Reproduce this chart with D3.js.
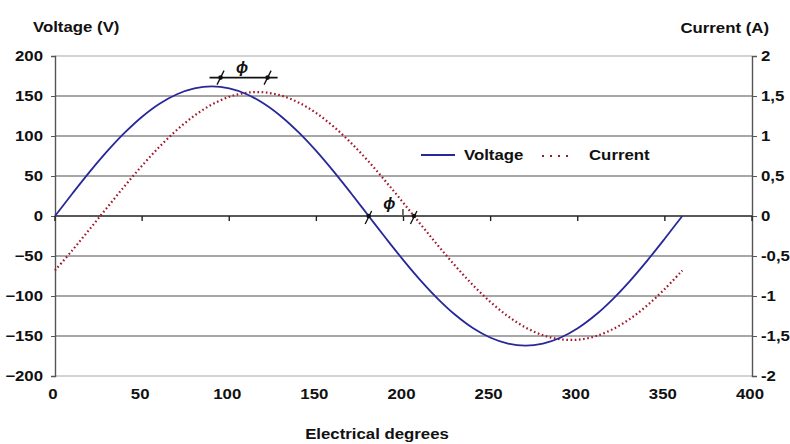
<!DOCTYPE html>
<html>
<head>
<meta charset="utf-8">
<script src="https://cdn.jsdelivr.net/npm/d3@7"></script>
<style>
  html, body { margin: 0; padding: 0; background: #fff; }
  svg { display: block; }
  text { font-family: "Liberation Sans", Arial, sans-serif; font-weight: bold; fill: #111; }
</style>
</head>
<body>
<svg id="chart" width="790" height="444"></svg>
<script>
// ---- data ----
const degrees = [0,10,20,30,40,50,60,70,80,90,100,110,120,130,140,150,160,170,180,
  190,200,210,220,230,240,250,260,270,280,290,300,310,320,330,340,350,360];
const voltage = [0,28.1,55.4,81,104.1,124.1,140.3,152.2,159.5,162,159.5,152.2,140.3,124.1,104.1,81,55.4,28.1,0,
  -28.1,-55.4,-81,-104.1,-124.1,-140.3,-152.2,-159.5,-162,-159.5,-152.2,-140.3,-124.1,-104.1,-81,-55.4,-28.1,0];
const current = [-0.68,-0.427,-0.162,0.108,0.375,0.63,0.867,1.077,1.254,1.393,1.49,1.541,1.546,1.504,1.416,1.285,1.115,0.911,0.68,
  0.427,0.162,-0.108,-0.375,-0.63,-0.867,-1.077,-1.254,-1.393,-1.49,-1.541,-1.546,-1.504,-1.416,-1.285,-1.115,-0.911,-0.68];
const xTicks = [0,50,100,150,200,250,300,350,400];
const vTicks = [-200,-150,-100,-50,0,50,100,150,200];
const iTicks = [-2,-1.5,-1,-0.5,0,0.5,1,1.5,2];
const iTickLabels = ["-2","-1,5","-1","-0,5","0","0,5","1","1,5","2"];
const phiTopDeg = [95, 122];   // phase markers near the peaks
const phiTopLevel = 173;       // volts
const phiZeroDeg = [180, 206]; // phase markers at zero crossings

const SX = 1.2; // horizontal stretch of the text in the reference
const FS = 14;

const svg = d3.select("#chart");
const x = d3.scaleLinear().domain([0,400]).range([55,752]);
const yV = d3.scaleLinear().domain([-200,200]).range([376,56]);
const yI = d3.scaleLinear().domain([-2,2]).range([376,56]);

function stretch(sel) {
  sel.each(function() {
    const t = d3.select(this);
    const tx = +t.attr("x") || 0, ty = +t.attr("y") || 0;
    t.attr("x", 0).attr("y", 0).attr("transform", `translate(${tx},${ty}) scale(${SX},1)`);
  });
  return sel;
}
function label(px, py, str, anchor) {
  const t = svg.append("text").attr("x", px).attr("y", py)
    .attr("text-anchor", anchor || "start").attr("font-size", FS).text(str);
  stretch(t);
  return t;
}

// gridlines
svg.append("g").selectAll("line").data(vTicks).join("line")
  .attr("x1", x(0)).attr("x2", x(400))
  .attr("y1", d => yV(d)).attr("y2", d => yV(d))
  .attr("stroke", d => (d === 200 || d === -200) ? "#c4c4c4" : (d === 0 ? "#222" : "#8a8a8a"))
  .attr("stroke-width", d => d === 0 ? 1.6 : 1.4);

// left axis
const left = d3.axisLeft(yV).tickValues(vTicks).tickSize(4).tickPadding(8);
const gl = svg.append("g").attr("transform", `translate(${x(0)},0)`).call(left);
gl.select(".domain").attr("stroke", "#555").attr("stroke-width", 1.4);
gl.selectAll(".tick line").attr("stroke", "#555");
stretch(gl.selectAll(".tick text").attr("font-size", FS).attr("font-family", "Liberation Sans, Arial")
  .attr("font-weight", "bold").attr("fill", "#111"));

// right axis
const right = d3.axisRight(yI).tickValues(iTicks).tickSize(5).tickPadding(4)
  .tickFormat((d,i) => iTickLabels[i]);
const gr = svg.append("g").attr("transform", `translate(${x(400)},0)`).call(right);
gr.select(".domain").attr("stroke", "#555").attr("stroke-width", 1.4);
gr.selectAll(".tick line").attr("stroke", "#555");
stretch(gr.selectAll(".tick text").attr("font-size", FS).attr("font-family", "Liberation Sans, Arial")
  .attr("font-weight", "bold").attr("fill", "#111"));

// x ticks on the zero line
svg.append("g").selectAll("line").data(xTicks).join("line")
  .attr("x1", d => x(d)).attr("x2", d => x(d))
  .attr("y1", yV(0)).attr("y2", yV(0) + 5)
  .attr("stroke", "#222").attr("stroke-width", 1.4);

// x tick labels at the bottom
stretch(svg.append("g").selectAll("text").data(xTicks).join("text")
  .attr("x", d => x(d) - 2).attr("y", 399)
  .attr("text-anchor", "middle").attr("font-size", FS)
  .text(d => d));

// lines
const lineV = d3.line().x((d,i) => x(degrees[i])).y(d => yV(d)).curve(d3.curveCatmullRom);
const lineI = d3.line().x((d,i) => x(degrees[i])).y(d => yI(d)).curve(d3.curveCatmullRom);

svg.append("path").datum(current).attr("d", lineI)
  .attr("fill", "none").attr("stroke", "#a3172b").attr("stroke-width", 2.2)
  .attr("stroke-dasharray", "1.6,2.6");
svg.append("path").datum(voltage).attr("d", lineV)
  .attr("fill", "none").attr("stroke", "#28289a").attr("stroke-width", 1.8);

// phase annotation (top)
const ann = svg.append("g").attr("stroke", "#111").attr("fill", "#111");
ann.append("line")
  .attr("x1", x(phiTopDeg[0]) - 11).attr("x2", x(phiTopDeg[1]) + 10)
  .attr("y1", yV(phiTopLevel)).attr("y2", yV(phiTopLevel))
  .attr("stroke-width", 1.8);
phiTopDeg.forEach(d => {
  ann.append("circle").attr("cx", x(d)).attr("cy", yV(phiTopLevel)).attr("r", 2.3).attr("stroke", "none");
  ann.append("line").attr("x1", x(d) - 3.5).attr("y1", yV(phiTopLevel) + 7)
    .attr("x2", x(d) + 3.5).attr("y2", yV(phiTopLevel) - 7).attr("stroke-width", 1.3);
});
svg.append("text").attr("x", (x(phiTopDeg[0]) + x(phiTopDeg[1])) / 2 - 2).attr("y", yV(phiTopLevel) - 5)
  .attr("text-anchor", "middle").attr("font-size", 16).attr("font-style", "italic").attr("font-weight", "normal")
  .attr("font-family", "DejaVu Serif, serif").text("ϕ");

// phase annotation (zero crossing)
phiZeroDeg.forEach(d => {
  ann.append("circle").attr("cx", x(d)).attr("cy", yV(0)).attr("r", 2.3).attr("stroke", "none");
  ann.append("line").attr("x1", x(d) - 3.5).attr("y1", yV(0) + 8)
    .attr("x2", x(d) + 3).attr("y2", yV(0) - 5).attr("stroke-width", 1.3);
});
ann.append("line").attr("x1", x(phiZeroDeg[1]) - 11).attr("x2", x(phiZeroDeg[1]) - 11)
  .attr("y1", yV(0) - 7).attr("y2", yV(0) - 1).attr("stroke-width", 1.2);
svg.append("text").attr("x", (x(phiZeroDeg[0]) + x(phiZeroDeg[1])) / 2 - 2).attr("y", yV(0) - 7)
  .attr("text-anchor", "middle").attr("font-size", 16).attr("font-style", "italic").attr("font-weight", "normal")
  .attr("font-family", "DejaVu Serif, serif").text("ϕ");

// legend
svg.append("line").attr("x1", 421).attr("x2", 455).attr("y1", 155).attr("y2", 155)
  .attr("stroke", "#28289a").attr("stroke-width", 1.8);
label(464, 160, "Voltage");
svg.append("line").attr("x1", 542).attr("x2", 572).attr("y1", 156).attr("y2", 156)
  .attr("stroke", "#a3172b").attr("stroke-width", 2.2).attr("stroke-dasharray", "2,6");
label(589, 160, "Current");

// axis titles
label(33, 32, "Voltage (V)");
label(769, 33, "Current (A)", "end");
label(377, 439, "Electrical degrees", "middle");
</script>
</body>
</html>
